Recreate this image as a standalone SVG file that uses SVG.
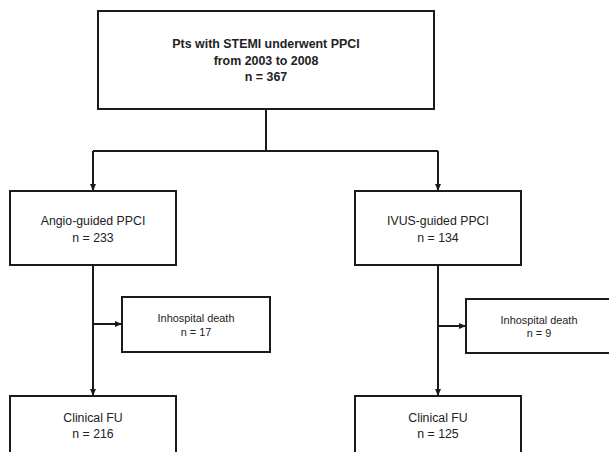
<svg xmlns="http://www.w3.org/2000/svg" width="609" height="452" viewBox="0 0 609 452">
  <defs>
    <style>
      .box { fill: #ffffff; stroke: #1a1a1a; stroke-width: 2; }
      .line { fill: none; stroke: #1a1a1a; stroke-width: 2; }
      .t { font-family: "Liberation Sans", Arial, sans-serif; fill: #222222; text-anchor: middle; }
      .big { font-size: 12.4px; font-weight: bold; }
      .mid { font-size: 12.3px; }
      .small { font-size: 10.9px; }
    </style>
    <marker id="arrow" markerUnits="userSpaceOnUse" markerWidth="7" markerHeight="7" viewBox="0 0 7 7" refX="7" refY="3.5" orient="auto">
      <path d="M0,0.5 L7,3.5 L0,6.5 Z" fill="#1a1a1a"/>
    </marker>
  </defs>
  <rect width="609" height="452" fill="#ffffff"/>

  <g id="connectors">
    <polyline class="line" points="266,109 266,151"/>
    <polyline class="line" points="93,151 438,151"/>
    <line class="line" x1="93" y1="151" x2="93" y2="191" marker-end="url(#arrow)"/>
    <line class="line" x1="438" y1="151" x2="438" y2="191" marker-end="url(#arrow)"/>
    <line class="line" x1="93" y1="265" x2="93" y2="396" marker-end="url(#arrow)"/>
    <line class="line" x1="438" y1="265" x2="438" y2="396" marker-end="url(#arrow)"/>
    <line class="line" x1="93" y1="324" x2="122" y2="324" marker-end="url(#arrow)"/>
    <line class="line" x1="438" y1="326" x2="466" y2="326" marker-end="url(#arrow)"/>
  </g>

  <g id="node-total">
    <rect class="box" x="98" y="11" width="336" height="98"/>
    <text class="t big" x="266" y="48">Pts with STEMI underwent PPCI</text>
    <text class="t big" x="266" y="64.5">from 2003 to 2008</text>
    <text class="t big" x="266" y="81">n = 367</text>
  </g>

  <g id="node-angio">
    <rect class="box" x="10" y="191" width="166" height="74"/>
    <text class="t mid" x="93" y="225">Angio-guided PPCI</text>
    <text class="t mid" x="93" y="241.5">n = 233</text>
  </g>

  <g id="node-ivus">
    <rect class="box" x="355" y="191" width="166" height="74"/>
    <text class="t mid" x="438" y="225">IVUS-guided PPCI</text>
    <text class="t mid" x="438" y="241.5">n = 134</text>
  </g>

  <g id="node-death-angio">
    <rect class="box" x="122" y="297" width="148" height="55"/>
    <text class="t small" x="196" y="322">Inhospital death</text>
    <text class="t small" x="196" y="336">n = 17</text>
  </g>

  <g id="node-death-ivus">
    <rect class="box" x="466" y="299" width="148" height="54"/>
    <text class="t small" x="539" y="323.5">Inhospital death</text>
    <text class="t small" x="539" y="337">n = 9</text>
  </g>

  <g id="node-fu-angio">
    <rect class="box" x="10" y="396" width="166" height="70"/>
    <text class="t mid" x="93" y="421.5">Clinical FU</text>
    <text class="t mid" x="93" y="438">n = 216</text>
  </g>

  <g id="node-fu-ivus">
    <rect class="box" x="355" y="396" width="166" height="70"/>
    <text class="t mid" x="438" y="421.5">Clinical FU</text>
    <text class="t mid" x="438" y="438">n = 125</text>
  </g>
</svg>
